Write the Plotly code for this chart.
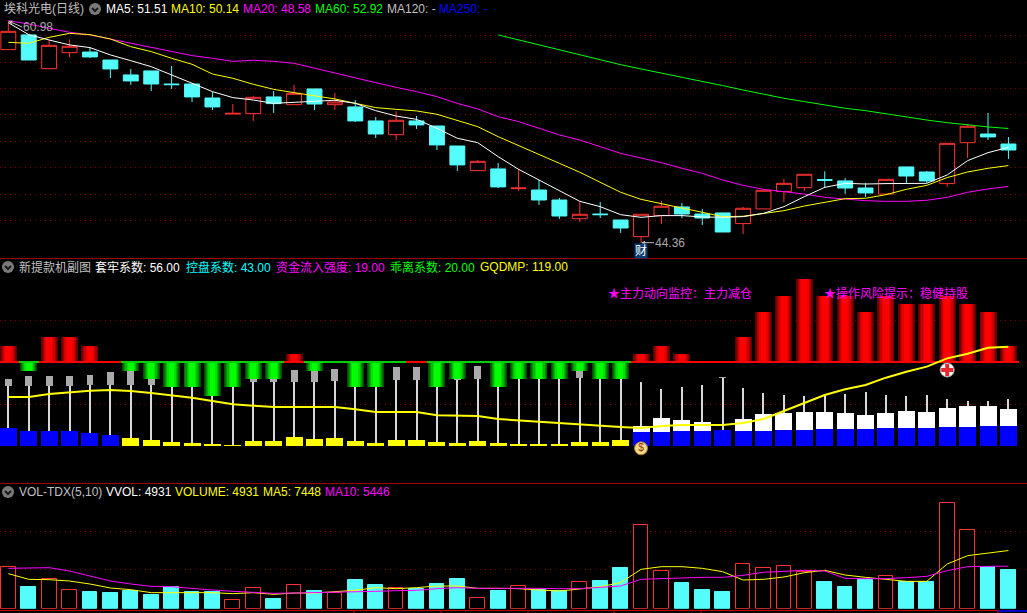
import plotly.graph_objects as go

DAY = list(range(50))
OPEN = [58.84,59.94,57.41,58.61,58.66,58.06,56.94,57.24,56.26,56.26,55.21,54.01,54.04,55.29,54.71,55.89,54.71,54.54,53.49,52.46,53.49,53.11,51.61,49.76,49.89,
        48.41,48.31,47.56,46.16,46.51,46.06,44.81,46.39,47.04,46.51,46.59,45.79,46.89,48.19,48.49,49.09,48.99,48.46,48.01,50.04,49.66,48.79,51.86,52.51,51.76]
HIGH = [60.98,59.94,59.61,59.61,59.01,58.06,57.39,57.24,57.61,56.26,55.66,54.76,55.36,55.74,56.19,55.89,55.59,55.06,53.79,54.21,53.86,53.11,51.61,50.56,50.34,
        49.89,49.06,47.71,47.49,47.41,46.06,46.49,47.49,47.34,46.89,46.59,47.04,48.39,49.14,49.49,49.71,49.21,48.84,49.11,50.04,49.74,51.81,53.26,54.09,52.29]
LOW = [58.84,58.06,57.41,58.24,58.21,56.71,56.19,55.74,55.89,54.91,54.31,54.01,53.49,54.09,54.71,54.31,54.31,53.41,52.21,52.06,52.89,51.31,49.74,49.76,48.46,
       48.24,47.19,46.14,45.91,46.21,45.09,44.36,45.76,46.21,45.69,45.16,45.01,46.89,47.41,48.24,48.46,48.01,47.79,48.01,48.84,48.84,48.54,50.71,52.06,50.64]
CLOSE = [60.21,58.06,59.16,59.09,58.29,57.39,56.49,56.26,56.21,55.29,54.54,54.06,55.26,54.79,55.56,54.76,54.91,53.49,52.51,53.54,53.19,51.69,50.19,50.46,48.54,
         48.46,47.56,46.36,46.49,46.46,45.46,46.49,47.09,46.51,46.21,45.16,46.94,48.29,48.81,49.49,49.04,48.46,48.09,49.11,49.36,48.99,51.81,53.09,52.29,51.31]
MA5 = [60.86,59.96,59.56,59.19,58.99,58.44,58.01,57.56,56.94,56.31,55.69,55.24,55.06,54.81,54.89,54.94,55.04,54.81,54.26,53.86,53.61,52.94,52.19,51.86,50.81,
       49.86,49.06,48.31,47.46,47.06,46.46,46.26,46.39,46.39,46.29,46.26,46.31,46.56,47.06,47.81,48.51,48.81,48.76,48.79,48.81,48.81,49.44,50.51,51.11,51.51]
MA10 = [59.39,59.31,59.76,60.06,59.96,59.64,59.06,58.69,58.19,57.74,57.01,56.69,56.24,55.86,55.61,55.36,55.14,54.81,54.49,54.36,54.24,53.99,53.51,53.06,52.31,
        51.66,50.99,50.31,49.64,48.86,48.14,47.61,47.31,46.96,46.64,46.31,46.34,46.56,46.76,47.11,47.41,47.66,47.69,47.96,48.36,48.66,49.24,49.66,49.94,50.14]
MA20 = [61.01,60.76,60.44,60.14,59.94,59.64,59.31,58.99,58.74,58.39,58.19,57.96,58.04,57.96,57.81,57.44,57.06,56.69,56.36,56.01,55.69,55.31,54.81,54.39,53.81,
        53.44,52.94,52.44,52.06,51.56,51.06,50.71,50.36,49.94,49.56,49.06,48.66,48.36,48.19,48.01,47.76,47.61,47.51,47.46,47.46,47.54,47.76,48.14,48.39,48.58]
MA60 = [None]*24 + [59.94,59.56,59.19,58.81,58.44,58.06,57.71,57.39,57.09,56.76,56.44,56.14,55.81,55.49,55.19,54.94,54.69,54.44,54.26,54.01,53.81,53.56,53.36,53.19,53.04,52.92]
PRICE_GRID = [59.91,57.89,55.94,53.99,51.96,50.01,47.99,46.04]

BIAS = [20,-10,30,30,20,0,-10,-20,-30,-30,-40,-30,-20,-20,10,-10,0,-30,-30,0,0,-30,-20,0,-30,
        -20,-20,-20,-10,-20,-20,10,20,10,0,0,30,60,80,100,80,80,60,80,70,70,80,70,60,20]
BIAS_BASE = 100.4
BIAS_ZERO_RED = [5,20,34,35]
GQDMP = [58.8,58.8,62.4,64.8,66.4,67.2,66,63.6,61.2,58,54,50,48.4,46.8,46.8,46.8,46.8,44,40.8,40.8,40.8,36.8,36,36,32.4,
         30.8,28.8,26.8,25.2,24.4,22.8,21.6,24,25.2,25.2,25.2,27.6,32.4,42,51.2,61.2,68,73.2,82,89.2,95.2,105.2,110.8,118,119]
INFLOW = [21.6,18,18,18,15.6,13.2,9.6,7.2,4.8,3.6,2.4,1.2,6,6,10.8,8.4,9.6,6,3.6,7.2,7.2,4.8,3.6,6,3.6,
          2.4,2.4,2.4,4.8,4.8,7.2,16.8,16.8,18,18,19.2,18,18,19.2,19.2,20.4,20.4,20.4,21.6,21.6,21.6,22.8,22.8,24,24]
CONTROL = [0]*31 + [24,33.6,31.2,28.8,19.2,32.4,38.4,39.6,40.8,40.8,39.6,37.2,39.6,42,40.8,45.6,48,48,44.4]
TRAP_TOP = [80.4,84,84,84,85.2,88.8,91.2,85.2,86,85,84,85,80.4,80.4,91.2,90,92.4,88,88,94.8,94.8,90,80.4,96,90,
            90,82,82,90,85,85,76.8,68.4,70.8,73.2,82.8,69.6,63.6,61.2,60,61.2,62.4,64.8,61.2,60,61.2,56.4,54,54,56.4]
TRAP_LOW = [72,72,72,72,73.2,73.2,73.2,73.2,73,73,73,73,76.8,76.8,76.8,76.8,78,78,78,79.2,79.2,79.2,79.2,80.4,80.4,
            80.4,80.4,80.4,81.6,81.6,81.6,76.8,68.4,70.8,73.2,81.6,69.6,63.6,61.2,60,61.2,62.4,64.8,61.2,60,61.2,56.4,54,54,56.4]
LOWER_COLOUR = ["#0000ff"]*6 + ["#ffff00"]*25 + ["#0000ff"]*19

VOLUME = [5295,2776,3758,2349,2135,2007,2263,1751,2776,2135,2135,1068,2605,1238,2989,2263,2007,3672,3032,2605,2519,3160,3800,1324,2263,
          2861,2391,2263,3373,3544,5209,10675,4782,3288,2391,2135,5679,5167,5423,4654,3416,2776,3672,4142,3416,3416,13493,10035,5338,4931]
VOL_MA5 = [4484,3758,3715,3544,3160,2647,2434,2050,2050,2050,2050,1922,2050,1836,2007,2007,2178,2349,2690,2562,2690,2904,2904,2605,2605,
           2562,2391,2263,2519,2818,3331,5039,5380,5380,5167,4740,3672,3758,4057,4612,4911,4313,4014,3758,3501,3501,5722,6789,7088,7448]
VOL_MA10 = [5167,5252,5252,4825,4227,3544,3160,2861,2818,2562,2391,2220,2050,1964,2007,2050,2050,2178,2220,2306,2349,2562,2690,2605,2605,
            2690,2605,2562,2562,2733,2904,3758,3843,4014,4014,4014,4270,4654,4782,4911,4825,3886,3843,3843,3971,4142,4868,5380,5423,5446]
VOL_GRID = [5039,9906]
IND_GRID = [50,100.4,150.8]

BG = "#000000"; RED = "#ff3232"; CYAN = "#54fcfc"; GRID = "#800000"; GREY = "#c0c0c0"
W, H = 1027, 613
FONT = "Liberation Sans, Noto Sans CJK SC, sans-serif"

fig = go.Figure()

# --- price panel
fig.add_trace(go.Candlestick(x=DAY, open=OPEN, high=HIGH, low=LOW, close=CLOSE, xaxis="x", yaxis="y",
    whiskerwidth=0,
    increasing=dict(line=dict(color=RED, width=1), fillcolor=BG),
    decreasing=dict(line=dict(color=CYAN, width=1), fillcolor=CYAN)))
for vals, col in ((MA60, "#00ff00"), (MA20, "#ff00ff"), (MA10, "#ffff00"), (MA5, "#ffffff")):
    fig.add_trace(go.Scatter(x=DAY, y=vals, mode="lines", yaxis="y", line=dict(color=col, width=1)))

# --- indicator panel
BAR_W = 0.833
fig.add_trace(go.Bar(x=DAY, y=TRAP_LOW, yaxis="y2", width=0.05, marker=dict(color="#d8d8d8", line=dict(width=0))))
fig.add_trace(go.Bar(x=DAY, y=[t-b for t, b in zip(TRAP_TOP, TRAP_LOW)], base=TRAP_LOW, yaxis="y2", width=0.34,
                     marker=dict(color="#aaaaaa", line=dict(width=0))))
fig.add_trace(go.Bar(x=DAY, y=CONTROL, yaxis="y2", width=BAR_W, marker=dict(color="#ffffff", line=dict(width=0))))
fig.add_trace(go.Bar(x=DAY, y=INFLOW, yaxis="y2", width=BAR_W, marker=dict(color=LOWER_COLOUR, line=dict(width=0))))

REDS = ["#5a0000", "#7a0000", "#a00000", "#c80000", "#e60000", "#ff0000"]
GREENS = ["#004c00", "#006c00", "#009000", "#00b800", "#00e000", "#00ff00"]
WIDTHS = [BAR_W, 0.74, 0.64, 0.54, 0.42, 0.28]
for r, g, w in zip(REDS, GREENS, WIDTHS):
    fig.add_trace(go.Bar(x=DAY, y=BIAS, base=BIAS_BASE, yaxis="y2", width=w,
                         marker=dict(color=[r if b > 0 else g for b in BIAS], line=dict(width=0))))
fig.add_trace(go.Bar(x=DAY, y=[1.2]*50, base=BIAS_BASE-0.6, yaxis="y2", width=1.0,
                     marker=dict(color=["#ff0000" if (b > 0 or (b == 0 and i in BIAS_ZERO_RED)) else "#00d000" for i, b in enumerate(BIAS)],
                                 line=dict(width=0))))
fig.add_trace(go.Scatter(x=DAY, y=GQDMP, mode="lines", yaxis="y2", line=dict(color="#ffff00", width=2)))
# signal icons
fig.add_trace(go.Scatter(x=[31], y=[-2.8], mode="markers+text", yaxis="y2", text=["$"], textposition="middle center",
                         textfont=dict(color="#8a3a00", size=10, family=FONT),
                         marker=dict(symbol="circle", size=13, color="#f4d98c", line=dict(color="#a87820", width=1))))
fig.add_trace(go.Scatter(x=[46], y=[91.2], mode="markers", yaxis="y2",
                         marker=dict(symbol="circle", size=14, color="#ffffff", line=dict(color="#999999", width=1))))
fig.add_trace(go.Scatter(x=[46], y=[91.2], mode="markers", yaxis="y2",
                         marker=dict(symbol="cross", size=10, color="#e8282c", line=dict(width=0))))

# --- volume panel
vol_up = [c >= o for o, c in zip(OPEN, CLOSE)]
fig.add_trace(go.Bar(x=DAY, y=VOLUME, yaxis="y3", width=0.72,
                     marker=dict(color=[BG if u else CYAN for u in vol_up],
                                 line=dict(color=[RED if u else CYAN for u in vol_up], width=1))))
fig.add_trace(go.Scatter(x=DAY, y=VOL_MA5, mode="lines", yaxis="y3", line=dict(color="#ffff00", width=1)))
fig.add_trace(go.Scatter(x=DAY, y=VOL_MA10, mode="lines", yaxis="y3", line=dict(color="#ff00ff", width=1)))


def fx(px):
    return px / W


def fy(px):
    return 1 - px / H


def label(px, py, text, color, size=12):
    return dict(xref="paper", yref="paper", x=fx(px), y=fy(py), text=text, showarrow=False,
                xanchor="left", yanchor="middle", borderpad=0, font=dict(color=color, size=size, family=FONT))


ann = [
    label(3, 9, "埃科光电(日线)", "#c0c0c0"),
    label(105, 9, "MA5: 51.51", "#ffffff"),
    label(170, 9, "MA10: 50.14", "#ffff00"),
    label(242, 9, "MA20: 48.58", "#ff00ff"),
    label(314, 9, "MA60: 52.92", "#00ff00"),
    label(386, 9, "MA120: -", "#c0c0c0"),
    label(438, 9, "MA250: -", "#0000ff"),
    label(18, 267, "新提款机副图", "#c0c0c0"),
    label(94, 267, "套牢系数: 56.00", "#ffffff"),
    label(185, 267, "控盘系数: 43.00", "#00ffff"),
    label(275, 267, "资金流入强度: 19.00", "#ff00ff"),
    label(389, 267, "乖离系数: 20.00", "#00ff00"),
    label(479, 267, "GQDMP: 119.00", "#ffff00"),
    label(607, 293, "★主力动向监控：主力减仓", "#ff00ff"),
    label(823, 293, "★操作风险提示：稳健持股", "#ff00ff"),
    label(18, 492, "VOL-TDX(5,10)", "#c0c0c0"),
    label(105, 492, "VVOL: 4931", "#ffffff"),
    label(174, 492, "VOLUME: 4931", "#ffff00"),
    label(262, 492, "MA5: 7448", "#ffff00"),
    label(324, 492, "MA10: 5446", "#ff00ff"),
    dict(x=0, y=60.98, xref="x", yref="y", text="60.98", showarrow=True, ax=14, ay=6, arrowhead=2, arrowsize=0.8, arrowwidth=1,
         arrowcolor=GREY, xanchor="left", yanchor="middle", borderpad=0, font=dict(color="#a8a8a8", size=12, family=FONT)),
    dict(x=31, y=44.36, xref="x", yref="y", text="44.36", showarrow=True, ax=13, ay=0, arrowhead=2, arrowsize=0.8, arrowwidth=1,
         arrowcolor=GREY, xanchor="left", yanchor="middle", borderpad=0, font=dict(color="#a8a8a8", size=12, family=FONT)),
    dict(x=31, y=43.75, xref="x", yref="y", text="财", showarrow=False, bgcolor="#0a3a70", borderpad=0,
         font=dict(color="#ffffff", size=12, family=FONT)),
]

shapes = []
for py, col, wid in ((258.5, "#a00000", 1), (483.5, "#a00000", 1), (610.5, "#c00000", 1)):
    shapes.append(dict(type="line", xref="paper", yref="paper", x0=0, x1=1, y0=fy(py), y1=fy(py), line=dict(color=col, width=wid)))
shapes.append(dict(type="rect", xref="paper", yref="paper", x0=fx(998), x1=1, y0=fy(610), y1=fy(612), fillcolor="#0000c8", line=dict(width=0)))
for px in (354, 441, 528, 614, 701, 998):
    shapes.append(dict(type="line", xref="paper", yref="paper", x0=fx(px), x1=fx(px), y0=fy(610), y1=fy(613), line=dict(color="#c00000", width=1)))
for cx, cy in ((95, 9), (8, 267), (8, 492)):
    shapes.append(dict(type="circle", xref="paper", yref="paper", x0=fx(cx-6), x1=fx(cx+6), y0=fy(cy-6), y1=fy(cy+6),
                       fillcolor="#7a7a7a", line=dict(width=0)))
    path = f"M {fx(cx-3)} {fy(cy-1)} L {fx(cx)} {fy(cy+2)} L {fx(cx+3)} {fy(cy-1)}"
    shapes.append(dict(type="path", xref="paper", yref="paper", path=path, line=dict(color="#1a1a1a", width=2)))

PX_P = 13.3333
PX_I = 0.8333
BASE_V = 608.67


def yax(dom, rng, ticks):
    return dict(domain=dom, range=rng, anchor="x", showticklabels=False, ticks="", zeroline=False, showline=False,
                fixedrange=True, tickmode="array", tickvals=ticks, showgrid=True, gridcolor=GRID, gridwidth=1, griddash="1px,4px")


fig.update_layout(
    width=W, height=H, margin=dict(l=0, r=0, t=0, b=0), autosize=False,
    paper_bgcolor=BG, plot_bgcolor=BG, showlegend=False, barmode="overlay",
    boxgap=0.27, boxgroupgap=0, bargap=0, bargroupgap=0,
    font=dict(family=FONT),
    xaxis=dict(range=[-0.408, 49.91], visible=False, rangeslider=dict(visible=False), fixedrange=True),
    yaxis=yax([1-258/H, 1], [62.56-258/PX_P, 62.56], PRICE_GRID),
    yaxis2=yax([1-483/H, 1-259/H], [-(483-446)/PX_I, (446-259)/PX_I], IND_GRID),
    yaxis3=yax([1-BASE_V/H, 1-484/H], [0, (BASE_V-484)*128.1], VOL_GRID),
    annotations=ann, shapes=shapes,
)

fig.write_html("out.html", config=dict(displayModeBar=False),
               post_script="document.body.style.margin='0';document.body.style.background='#000';document.documentElement.style.overflow='hidden';")
